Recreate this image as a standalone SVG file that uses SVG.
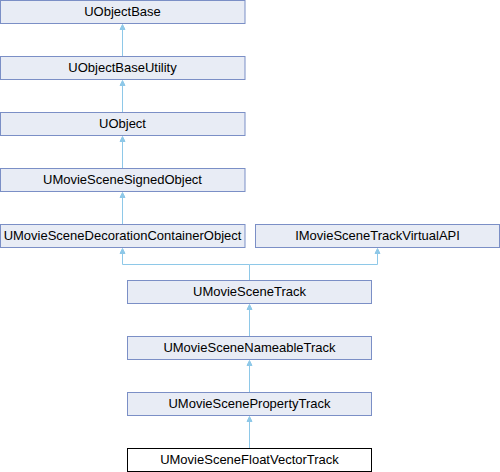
<svg xmlns="http://www.w3.org/2000/svg" width="500" height="472" viewBox="0 0 500 472">
<defs>
<style>
.n rect{fill:#e8ecf5;stroke:#7b8fc6;stroke-width:1}
.n.cur rect{fill:#ffffff;stroke:#000000}
.n text{font-family:"Liberation Sans",Arial,sans-serif;font-size:13px;fill:#000;text-anchor:middle}
.e path{fill:none;stroke:#8ec8e8;stroke-width:1}
.e polygon{fill:#8ec8e8;stroke:#8ec8e8;stroke-width:1}
</style>
</defs>
<rect width="500" height="472" fill="#ffffff"/>
<g class="e" id="connectors">
<path d="M122.5,56.5V29"/><polygon points="122.5,24.5 120,29.5 125,29.5"/>
<path d="M122.5,112.5V85"/><polygon points="122.5,80.5 120,85.5 125,85.5"/>
<path d="M122.5,168.5V141"/><polygon points="122.5,136.5 120,141.5 125,141.5"/>
<path d="M122.5,224.5V197"/><polygon points="122.5,192.5 120,197.5 125,197.5"/>
<path d="M249.5,280.5V264.5H122.5V253"/><polygon points="122.5,248.5 120,253.5 125,253.5"/>
<path d="M249.5,264.5H377.5V253"/><polygon points="377.5,248.5 375,253.5 380,253.5"/>
<path d="M249.5,336.5V309"/><polygon points="249.5,304.5 247,309.5 252,309.5"/>
<path d="M249.5,392.5V365"/><polygon points="249.5,360.5 247,365.5 252,365.5"/>
<path d="M249.5,448.5V421"/><polygon points="249.5,416.5 247,421.5 252,421.5"/>
</g>
<g class="n" id="UObjectBase"><rect x="0.5" y="0.5" width="244.5" height="23"/><text x="122.5" y="16">UObjectBase</text></g>
<g class="n" id="UObjectBaseUtility"><rect x="0.5" y="56.5" width="244.5" height="23"/><text x="122.5" y="72">UObjectBaseUtility</text></g>
<g class="n" id="UObject"><rect x="0.5" y="112.5" width="244.5" height="23"/><text x="122.5" y="128">UObject</text></g>
<g class="n" id="UMovieSceneSignedObject"><rect x="0.5" y="168.5" width="244.5" height="23"/><text x="122.5" y="184">UMovieSceneSignedObject</text></g>
<g class="n" id="UMovieSceneDecorationContainerObject"><rect x="0.5" y="224.5" width="244.5" height="23"/><text x="122.5" y="240">UMovieSceneDecorationContainerObject</text></g>
<g class="n" id="IMovieSceneTrackVirtualAPI"><rect x="255.5" y="224.5" width="244" height="23"/><text x="377.5" y="240">IMovieSceneTrackVirtualAPI</text></g>
<g class="n" id="UMovieSceneTrack"><rect x="127.5" y="280.5" width="244" height="23"/><text x="249.5" y="296">UMovieSceneTrack</text></g>
<g class="n" id="UMovieSceneNameableTrack"><rect x="127.5" y="336.5" width="244" height="23"/><text x="249.5" y="352">UMovieSceneNameableTrack</text></g>
<g class="n" id="UMovieScenePropertyTrack"><rect x="127.5" y="392.5" width="244" height="23"/><text x="249.5" y="408">UMovieScenePropertyTrack</text></g>
<g class="n cur" id="UMovieSceneFloatVectorTrack"><rect x="127.5" y="448.5" width="244" height="23"/><text x="249.5" y="464">UMovieSceneFloatVectorTrack</text></g>
</svg>
